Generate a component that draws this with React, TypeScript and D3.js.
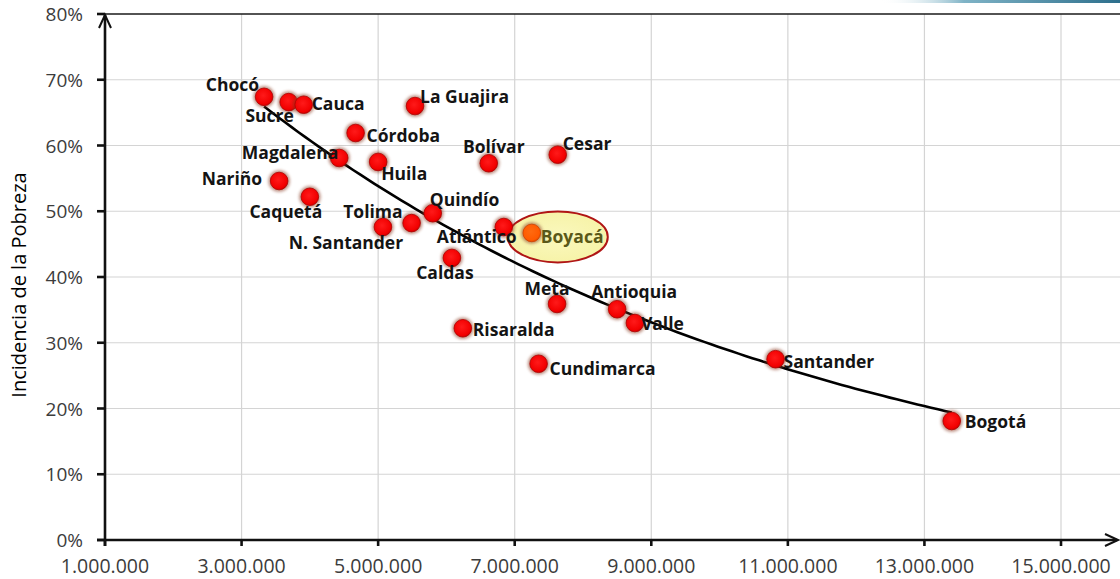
import React from "react";
import * as d3 from "d3";

// ---------- data ----------
const departments = [
  "Chocó", "Sucre", "Cauca", "La Guajira", "Córdoba", "Magdalena", "Huila", "Bolívar",
  "Cesar", "Nariño", "Caquetá", "Quindío", "Tolima", "N. Santander", "Atlántico", "Boyacá",
  "Caldas", "Meta", "Antioquia", "Valle", "Risaralda", "Cundimarca", "Santander", "Bogotá",
];
const income = [
  3330000, 3690000, 3910000, 5540000, 4670000, 4430000, 5000000, 6620000,
  7630000, 3550000, 4000000, 5800000, 5490000, 5070000, 6840000, 7250000,
  6080000, 7620000, 8500000, 8760000, 6240000, 7350000, 10820000, 13400000,
];
const poverty = [
  0.674, 0.666, 0.662, 0.660, 0.619, 0.581, 0.575, 0.573,
  0.586, 0.546, 0.522, 0.497, 0.482, 0.476, 0.476, 0.467,
  0.429, 0.359, 0.351, 0.330, 0.322, 0.268, 0.275, 0.181,
];
const highlighted = "Boyacá";
const xTicks = [1000000, 3000000, 5000000, 7000000, 9000000, 11000000, 13000000, 15000000];
const yTicks = [0, 0.1, 0.2, 0.3, 0.4, 0.5, 0.6, 0.7, 0.8];
const yTitle = "Incidencia de la Pobreza";

// label placement (offset from the point, text anchor)
const labelLayout: Record<string, [number, number, string]> = {
  "Chocó": [-5, -13, "end"],
  "Sucre": [-19, 13, "middle"],
  "Cauca": [8, -2, "start"],
  "La Guajira": [5, -10, "start"],
  "Córdoba": [11, 2, "start"],
  "Magdalena": [-1, -6, "end"],
  "Huila": [3, 11, "start"],
  "Bolívar": [5, -17, "middle"],
  "Cesar": [5, -12, "start"],
  "Nariño": [-17, -3, "end"],
  "Caquetá": [-24, 14, "middle"],
  "Quindío": [-3, -14, "start"],
  "Tolima": [-9, -12, "end"],
  "N. Santander": [-37, 15, "middle"],
  "Atlántico": [-27, 9, "middle"],
  "Boyacá": [9, 3, "start"],
  "Caldas": [-7, 14, "middle"],
  "Meta": [-10, -16, "middle"],
  "Antioquia": [17, -18, "middle"],
  "Valle": [6, 0, "start"],
  "Risaralda": [10, 1, "start"],
  "Cundimarca": [11, 4, "start"],
  "Santander": [8, 2, "start"],
  "Bogotá": [13, 0, "start"],
};

const W = 1120;
const H = 579;
const FONT = "'Open Sans', 'Liberation Sans', sans-serif";

export default function App() {
  const x = d3.scaleLinear().domain([1000000, 15000000]).range([105, 1061]);
  const y = d3.scaleLinear().domain([0, 0.8]).range([540, 14]);
  const plotRight = W;

  // exponential trend line (least squares on ln y), as a spreadsheet would fit it
  const n = income.length;
  const mx = d3.mean(income)!;
  const ly = poverty.map((v) => Math.log(v));
  const my = d3.mean(ly)!;
  let sxy = 0, sxx = 0;
  for (let i = 0; i < n; i++) {
    sxy += (income[i] - mx) * (ly[i] - my);
    sxx += (income[i] - mx) * (income[i] - mx);
  }
  const b = sxy / sxx;
  const a = Math.exp(my - b * mx);
  const [xmin, xmax] = d3.extent(income) as [number, number];
  const trendPts = d3.range(0, 101).map((k) => {
    const xv = xmin + ((xmax - xmin) * k) / 100;
    return [xv, a * Math.exp(b * xv)] as [number, number];
  });
  const trendPath = d3
    .line<[number, number]>()
    .x((d) => x(d[0]))
    .y((d) => y(d[1]))(trendPts)!;

  const points = departments.map((name, i) => ({ name, xv: income[i], yv: poverty[i] }));
  const hl = points.find((p) => p.name === highlighted)!;
  const fmt = (v: number) => d3.format(",")(v).replace(/,/g, ".");

  const x0 = x(1000000);
  const y0 = y(0);

  return (
    <div style={{ position: "absolute", left: 0, top: 0, width: W, height: H }}>
      <svg width={W} height={H} style={{ display: "block", background: "#fff" }}>
        <defs>
          <linearGradient id="swoosh" x1="0" x2="1" y1="0" y2="0">
            <stop offset="0" stopColor="#ffffff" stopOpacity="0" />
            <stop offset="0.35" stopColor="#7fb3c6" />
            <stop offset="1" stopColor="#2d6f8c" />
          </linearGradient>
          <filter id="halo" x="-50%" y="-50%" width="200%" height="200%">
            <feGaussianBlur stdDeviation="1.4" />
          </filter>
          <radialGradient id="dot" cx="0.45" cy="0.42" r="0.6">
            <stop offset="0" stopColor="#ff1a1a" />
            <stop offset="0.8" stopColor="#f20000" />
            <stop offset="1" stopColor="#c80000" />
          </radialGradient>
          <radialGradient id="dotHl" cx="0.45" cy="0.42" r="0.6">
            <stop offset="0" stopColor="#ff6a10" />
            <stop offset="0.8" stopColor="#ff5a00" />
            <stop offset="1" stopColor="#e04800" />
          </radialGradient>
          <radialGradient id="ellFill" cx="0.5" cy="0.5" r="0.6">
            <stop offset="0" stopColor="#faf8be" />
            <stop offset="1" stopColor="#f6f2a4" />
          </radialGradient>
        </defs>

        {/* decorative slide line */}
        <rect x={880} y={0} width={240} height={3} fill="url(#swoosh)" />

        {/* gridlines */}
        <g stroke="#d4d4d4" strokeWidth={1.2}>
          {yTicks.slice(1, -1).map((t) => (
            <line key={"gy" + t} x1={x0} x2={plotRight} y1={y(t)} y2={y(t)} />
          ))}
          {xTicks.slice(1).map((t) => (
            <line key={"gx" + t} x1={x(t)} x2={x(t)} y1={y(0.8)} y2={y0} />
          ))}
        </g>
        {/* top border */}
        <line x1={x0 - 8} x2={plotRight} y1={y(0.8)} y2={y(0.8)} stroke="#1a1a1a" strokeWidth={1.6} />

        {/* y axis */}
        <g stroke="#111" strokeWidth={2.6} fill="none">
          <line x1={x0} x2={x0} y1={y0 + 6} y2={y(0.8) + 1} />
          <polyline points={`${x0 - 6},${y(0.8) + 14} ${x0},${y(0.8) + 1} ${x0 + 6},${y(0.8) + 14}`} strokeWidth={2} />
          {yTicks.map((t) => (
            <line key={"ty" + t} x1={x0 - 8} x2={x0} y1={y(t)} y2={y(t)} />
          ))}
        </g>
        {/* x axis */}
        <g stroke="#111" strokeWidth={2.6} fill="none">
          <line x1={x0 - 8} x2={1117} y1={y0} y2={y0} />
          <polyline points={`${1105},${y0 - 6} ${1118},${y0} ${1105},${y0 + 6}`} strokeWidth={2} />
          {xTicks.map((t) => (
            <line key={"tx" + t} x1={x(t)} x2={x(t)} y1={y0} y2={y0 + 6} />
          ))}
        </g>

        {/* tick labels */}
        <g fontFamily={FONT} fill="#3c3c3c">
          {yTicks.map((t) => (
            <text key={"ly" + t} x={83} y={y(t)} fontSize={19} textAnchor="end" dominantBaseline="central">
              {d3.format(".0%")(t)}
            </text>
          ))}
          {xTicks.map((t) => (
            <text key={"lx" + t} x={x(t)} y={565} fontSize={19.5} textAnchor="middle" dominantBaseline="central">
              {fmt(t)}
            </text>
          ))}
        </g>
        <text
          transform={`translate(18.5,${285}) rotate(-90)`}
          textAnchor="middle"
          dominantBaseline="central"
          fontFamily={FONT}
          fontSize={20}
          fill="#000"
        >
          {yTitle}
        </text>

        {/* trend line */}
        <path d={trendPath} fill="none" stroke="#000" strokeWidth={2.6} />

        {/* highlight ellipse */}
        <ellipse
          cx={x(hl.xv) + 26}
          cy={y(hl.yv) + 4}
          rx={50}
          ry={25.5}
          fill="url(#ellFill)"
          stroke="#b01515"
          strokeWidth={2}
        />

        {/* points */}
        <g>
          {points.map((p) => (
            <g key={p.name} transform={`translate(${x(p.xv)},${y(p.yv)})`}>
              <circle r={10.8} fill="#8a3a20" opacity={0.55} filter="url(#halo)" />
              <circle r={8.8} fill={p.name === highlighted ? "url(#dotHl)" : "url(#dot)"} stroke={p.name === highlighted ? "#d04000" : "#b00000"} strokeWidth={0.8} />
            </g>
          ))}
        </g>

        {/* labels */}
        <g fontFamily={FONT} fontWeight={700} fontSize={17.5}>
          {points.map((p) => {
            const [dx, dy, anchor] = labelLayout[p.name];
            return (
              <text
                key={"t" + p.name}
                x={x(p.xv) + dx}
                y={y(p.yv) + dy}
                textAnchor={anchor as any}
                dominantBaseline="central"
                fill={p.name === highlighted ? "#5a5818" : "#141414"}
              >
                {p.name}
              </text>
            );
          })}
        </g>
      </svg>
    </div>
  );
}
